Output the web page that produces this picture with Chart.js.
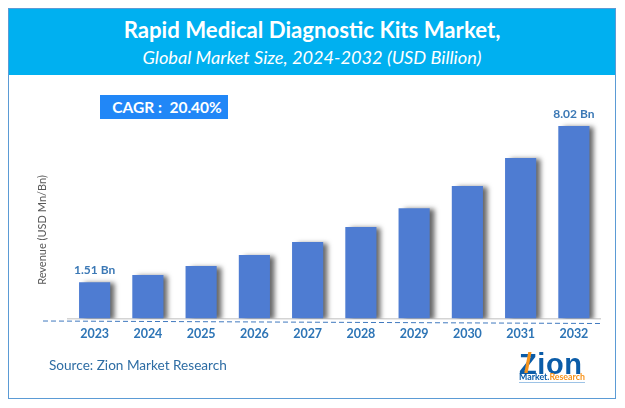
<!DOCTYPE html>
<html>
<head>
<meta charset="utf-8">
<script src="https://cdn.jsdelivr.net/npm/chart.js@4"></script>
<style>
  html, body { margin: 0; padding: 0; background: #fff; overflow: hidden; }
  #page { position: relative; width: 625px; height: 408px; font-family: Lato, sans-serif; }
  #frame { position: absolute; left: 8px; top: 8px; width: 606px; height: 389px; border: 1.5px solid #5B9BD5; }
  #band { position: absolute; left: 9px; top: 9px; width: 606px; height: 66px; background: #00B0F0; color: #fff; text-align: center; }
  #title { position: absolute; left: 0; right: 0; top: 7px; font-size: 22.2px; font-weight: 700; }
  #subtitle { position: absolute; left: 0; right: 0; top: 37px; font-size: 18.2px; font-style: italic; font-weight: 400; }
  #cagr { position: absolute; left: 100px; top: 95px; width: 128px; height: 24px; line-height: 24px; background: #2187F7; color: #fff; font-size: 15.5px; font-weight: 700; text-align: center; white-space: pre; text-indent: 6px; }
  #source { position: absolute; left: 49px; top: 357px; font-size: 13.6px; color: #2E6DA4; }
  canvas { position: absolute; left: 0; top: 0; }
  #logo { position: absolute; left: 519px; top: 351px; width: 68px; height: 34px; }
  #logoName { position: absolute; left: 0; top: -3px; font: 700 29px "Liberation Sans", sans-serif; color: #0B5CA8; letter-spacing: 0.6px; }
  #logoSlash { position: absolute; left: 5px; top: -4px; font: 700 28px "Liberation Sans", sans-serif; color: #F7941D; }
  #logoSub { position: absolute; left: 0; top: 20px; font: 700 8.8px Lato, sans-serif; color: #0B5CA8; white-space: nowrap; border-bottom: 1px solid #9DC3E6; }
  #logoSub span { color: #F7941D; }
</style>
</head>
<body>
<div id="page">
  <canvas id="marketChart" width="625" height="408"></canvas>
  <div id="frame"></div>
  <div id="band">
    <div id="title">Rapid Medical Diagnostic Kits Market,</div>
    <div id="subtitle">Global Market Size, 2024-2032 (USD Billion)</div>
  </div>
  <div id="cagr">CAGR :  20.40%</div>
  <div id="source">Source: Zion Market Research</div>
  <div id="logo">
    <div id="logoName">Zion</div>
    <div id="logoSlash">/</div>
    <div id="logoSub">Market.<span>Research</span></div>
  </div>
</div>
<script>
// Data
const years = ['2023', '2024', '2025', '2026', '2027', '2028', '2029', '2030', '2031', '2032'];
const revenue = [1.51, 1.81, 2.19, 2.65, 3.19, 3.81, 4.60, 5.52, 6.69, 8.02];
const barLabels = ['1.51 Bn', '', '', '', '', '', '', '', '', '8.02 Bn'];
const yAxisTitle = 'Revenue (USD Mn/Bn)';

// Soft shadow to the right of the bars
const barShadow = {
  id: 'barShadow',
  beforeDatasetDraw(chart) {
    const c = chart.ctx;
    c.save();
    c.shadowColor = 'rgba(0,0,0,0.6)';
    c.shadowBlur = 5;
    c.shadowOffsetX = 5;
    c.shadowOffsetY = 1;
  },
  afterDatasetDraw(chart) {
    chart.ctx.restore();
  }
};

// Value labels, y axis title and dashed rule under the axis
const extras = {
  id: 'extras',
  afterDraw(chart) {
    const c = chart.ctx;
    const area = chart.chartArea;
    const bars = chart.getDatasetMeta(0).data;

    c.save();
    c.fillStyle = '#3B78B5';
    c.font = '700 12px Lato, sans-serif';
    c.textAlign = 'center';
    c.textBaseline = 'alphabetic';
    bars.forEach((bar, i) => {
      if (barLabels[i]) c.fillText(barLabels[i], bar.x, bar.y - 8.5);
    });

    c.strokeStyle = '#3F78BE';
    c.lineWidth = 1;
    c.setLineDash([5, 3]);
    c.beginPath();
    c.moveTo(area.left - 25, area.bottom + 2.5);
    c.lineTo(area.right, area.bottom + 5);
    c.stroke();
    c.setLineDash([]);

    c.translate(42, 230);
    c.rotate(-Math.PI / 2);
    c.fillStyle = '#595959';
    c.font = '11px Lato, sans-serif';
    c.textBaseline = 'middle';
    c.fillText(yAxisTitle, 0, 0);
    c.restore();
  }
};

new Chart(document.getElementById('marketChart').getContext('2d'), {
  type: 'bar',
  data: {
    labels: years,
    datasets: [{
      data: revenue,
      backgroundColor: '#4E7CD2',
      barPercentage: 0.585,
      categoryPercentage: 1
    }]
  },
  options: {
    responsive: false,
    animation: false,
    layout: { padding: { left: 68, right: 24.5, top: 117, bottom: 0 } },
    scales: {
      x: {
        grid: { display: false },
        border: { color: '#D4D4D4', width: 1.5 },
        ticks: { color: '#2E75B6', font: { family: 'Lato, sans-serif', size: 12.5, weight: '700' }, padding: 0, maxRotation: 0 },
        afterFit: (scale) => { scale.height = 89.5; }
      },
      y: { display: false, min: 0, max: 8.4 }
    },
    plugins: {
      legend: { display: false },
      tooltip: { enabled: false },
      title: { display: false }
    }
  },
  plugins: [barShadow, extras]
});
</script>
</body>
</html>
